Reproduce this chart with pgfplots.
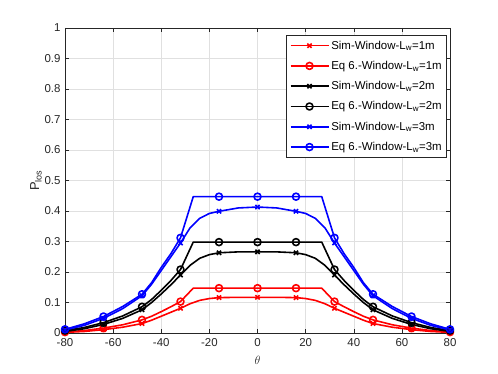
\documentclass[border=0pt]{standalone}
\usepackage{fontspec}
\setmainfont{Liberation Sans}
\usepackage{pgfplots}
\pgfplotsset{compat=1.18}
\definecolor{axgray}{gray}{0.15}
\definecolor{gridgray}{gray}{0.88}
\begin{document}
\begin{tikzpicture}
\useasboundingbox (-65bp,-41bp) rectangle (433bp,333bp);
\begin{axis}[
  at={(0,0)}, anchor=south west,
  scale only axis, width=385bp, height=305bp,
  xmin=-80, xmax=80, ymin=0, ymax=1,
  xtick={-80,-60,...,80},
  ytick={0,0.1,...,1},
  yticklabels={0,0.1,0.2,0.3,0.4,0.5,0.6,0.7,0.8,0.9,1},
  /pgf/number format/assume math mode=true,
  tick label style={font=\fontsize{11.5}{13}\selectfont, color=axgray},
  xticklabel style={yshift=-2bp},
  yticklabel style={xshift=-1bp},
  label style={font=\fontsize{13}{15}\selectfont, color=axgray},
  xlabel={$\theta$},
  ylabel={P\textsubscript{los}},
  xlabel style={yshift=-3bp},
  ylabel style={yshift=-4bp},
  grid=major,
  major grid style={gridgray, line width=0.5pt},
  axis line style={axgray, line width=0.5pt},
  tick style={axgray, line width=0.5pt},
  tick align=inside,
  major tick length=4bp,
  every axis plot/.append style={line width=1.6pt, line join=round},
  legend style={at={(0.992,0.977)}, anchor=north east, draw=axgray, line width=0.5pt,
    font=\fontsize{11.5}{13}\selectfont, row sep=6.5bp, inner xsep=3bp, inner ysep=3.5bp,
    cells={anchor=west}},
  legend image code/.code={\draw[#1, mark indices={2}] plot coordinates {(0bp,0bp)(19bp,0bp)(38bp,0bp)};},
  sim/.style={mark=x, mark size=3pt, mark indices={1,3,5,9,13,15,17,21,25,27,29}},
  eq/.style={mark=o, mark size=3.5pt, mark indices={1,3,5,9,11,12,13,15,19,21,23}},
]
% Sim Lw=1m
\addplot[red, sim] coordinates {
(-80,0.002)(-72,0.005)(-64,0.011)(-56,0.019)(-48,0.031)(-44,0.042)(-40,0.055)(-36,0.068)(-32,0.081)(-28,0.096)(-24,0.107)(-20,0.113)(-16,0.116)(-8,0.117)(0,0.117)
(8,0.117)(16,0.116)(20,0.113)(24,0.107)(28,0.096)(32,0.081)(36,0.068)(40,0.055)(44,0.042)(48,0.031)(56,0.019)(64,0.011)(72,0.005)(80,0.002)};
\addlegendentry{Sim-Window-L\textsubscript{w}=1m}
% Eq Lw=1m
\addplot[red, eq] coordinates {
(-80,0.003)(-72,0.008)(-64,0.016)(-56,0.027)(-48,0.043)(-44,0.055)(-40,0.070)(-36,0.086)(-32,0.103)(-26.7,0.147)(-16,0.147)(0,0.147)
(16,0.147)(26.7,0.147)(32,0.103)(36,0.086)(40,0.070)(44,0.055)(48,0.043)(56,0.027)(64,0.016)(72,0.008)(80,0.003)};
\addlegendentry{Eq 6.-Window-L\textsubscript{w}=1m}
% Sim Lw=2m
\addplot[black, sim] coordinates {
(-80,0.005)(-72,0.014)(-64,0.028)(-56,0.048)(-48,0.076)(-44,0.100)(-40,0.128)(-36,0.158)(-32,0.190)(-28,0.222)(-24,0.245)(-20,0.257)(-16,0.263)(-8,0.266)(0,0.266)
(8,0.266)(16,0.263)(20,0.257)(24,0.245)(28,0.222)(32,0.190)(36,0.158)(40,0.128)(44,0.100)(48,0.076)(56,0.048)(64,0.028)(72,0.014)(80,0.005)};
\addlegendentry{Sim-Window-L\textsubscript{w}=2m}
% Eq Lw=2m
\addplot[black, eq] coordinates {
(-80,0.008)(-72,0.018)(-64,0.034)(-56,0.056)(-48,0.086)(-44,0.110)(-40,0.140)(-36,0.172)(-32,0.208)(-26.7,0.298)(-16,0.298)(0,0.298)
(16,0.298)(26.7,0.298)(32,0.208)(36,0.172)(40,0.140)(44,0.110)(48,0.086)(56,0.056)(64,0.034)(72,0.018)(80,0.008)};
\addlegendentry{Eq 6.-Window-L\textsubscript{w}=2m}
% Sim Lw=3m
\addplot[blue, sim] coordinates {
(-80,0.010)(-72,0.025)(-64,0.048)(-56,0.080)(-48,0.122)(-44,0.160)(-40,0.205)(-36,0.250)(-32,0.295)(-28,0.345)(-24,0.376)(-20,0.392)(-16,0.399)(-8,0.410)(0,0.413)
(8,0.410)(16,0.399)(20,0.392)(24,0.376)(28,0.345)(32,0.295)(36,0.250)(40,0.205)(44,0.160)(48,0.122)(56,0.080)(64,0.048)(72,0.025)(80,0.010)};
\addlegendentry{Sim-Window-L\textsubscript{w}=3m}
% Eq Lw=3m
\addplot[blue, eq] coordinates {
(-80,0.012)(-72,0.030)(-64,0.054)(-56,0.087)(-48,0.127)(-44,0.165)(-40,0.215)(-36,0.260)(-32,0.312)(-26.7,0.447)(-16,0.447)(0,0.447)
(16,0.447)(26.7,0.447)(32,0.312)(36,0.260)(40,0.215)(44,0.165)(48,0.127)(56,0.087)(64,0.054)(72,0.030)(80,0.012)};
\addlegendentry{Eq 6.-Window-L\textsubscript{w}=3m}
\end{axis}
\end{tikzpicture}
\end{document}
